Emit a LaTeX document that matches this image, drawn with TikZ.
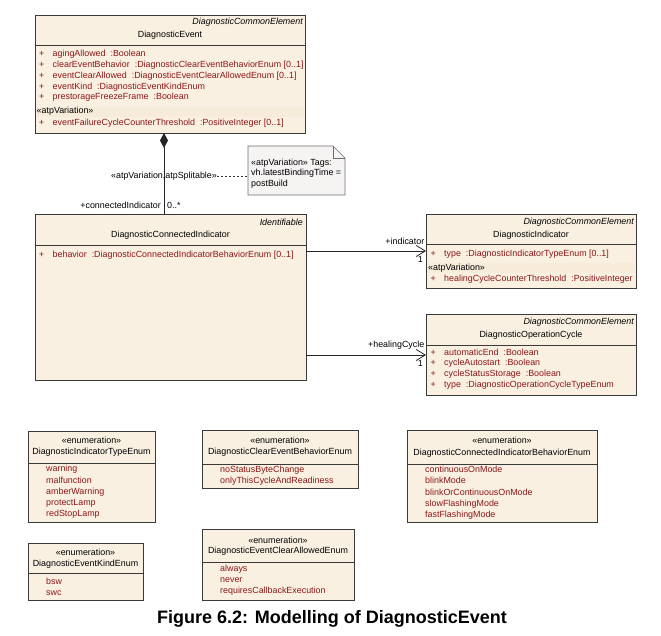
\documentclass[tikz,border=0pt]{standalone}
\usepackage{fontspec}
\setmainfont{Liberation Sans}
\usetikzlibrary{arrows.meta}

\definecolor{boxfill}{RGB}{250,240,226}
\definecolor{bandfill}{RGB}{247,235,218}
\definecolor{boxline}{RGB}{58,58,58}
\definecolor{attrred}{RGB}{140,22,22}
\definecolor{notefill}{RGB}{246,243,243}
\definecolor{noteline}{RGB}{110,110,110}

\def\attrplus{+\hspace{8.3pt}}

\tikzset{
  classbox/.style={draw=boxline, fill=boxfill, line width=0.8pt},
  sepline/.style={draw=boxline, line width=0.8pt},
  stereo/.style={anchor=east, inner sep=0pt, font=\fontsize{8.9}{10}\selectfont\itshape},
  cname/.style={inner sep=0pt, font=\fontsize{8.9}{10}\selectfont},
  attr/.style={anchor=west, inner sep=0pt, text=attrred, font=\fontsize{8.9}{10}\selectfont},
  plain/.style={inner sep=0pt, font=\fontsize{8.9}{10}\selectfont},
  assoc/.style={draw=black!85, line width=0.8pt, -{Straight Barb[length=9pt,width=11pt]}}
}

\begin{document}
\begin{tikzpicture}[x=1pt, y=-1pt]
\useasboundingbox (0,0) rectangle (661,635);

% DiagnosticEvent
\draw[classbox] (35,15) rectangle (305,133);
\draw[sepline] (35,45) -- (305,45);
\node[stereo] (ev-st) at (303,22) {DiagnosticCommonElement};
\node[cname] (ev-nm) at (170,35) {DiagnosticEvent};
\node[attr] (ev-a1) at (39,54) {\attrplus agingAllowed\ \ :Boolean};
\node[attr] (ev-a2) at (39,64.7) {\attrplus clearEventBehavior\ \ :DiagnosticClearEventBehaviorEnum [0..1]};
\node[attr] (ev-a3) at (39,75.7) {\attrplus eventClearAllowed\ \ :DiagnosticEventClearAllowedEnum [0..1]};
\node[attr] (ev-a4) at (39,86.7) {\attrplus eventKind\ \ :DiagnosticEventKindEnum};
\node[attr] (ev-a5) at (39,97.3) {\attrplus prestorageFreezeFrame\ \ :Boolean};
\fill[bandfill] (36,106.5) rectangle (304,117);
\node[plain, anchor=west] (ev-var) at (36.5,111.5) {«atpVariation»};
\node[attr] (ev-a6) at (39,123.5) {\attrplus eventFailureCycleCounterThreshold\ \ :PositiveInteger [0..1]};

% DiagnosticConnectedIndicator
\draw[classbox] (35,214) rectangle (306,380);
\draw[sepline] (35,245) -- (306,245);
\node[stereo] (ci-st) at (303,222) {Identifiable};
\node[cname] (ci-nm) at (170.5,235) {DiagnosticConnectedIndicator};
\node[attr] (ci-a1) at (39,255) {\attrplus behavior\ \ :DiagnosticConnectedIndicatorBehaviorEnum [0..1]};
\coordinate (ci-top) at (164,214);

% DiagnosticIndicator
\draw[classbox] (426,214) rectangle (636,288);
\draw[sepline] (426,244) -- (636,244);
\coordinate (ind-w) at (426,251);
\node[stereo] (ind-st) at (634,222) {DiagnosticCommonElement};
\node[cname] (ind-nm) at (531,235.5) {DiagnosticIndicator};
\node[attr] (ind-a1) at (430.5,254) {\attrplus type\ \ :DiagnosticIndicatorTypeEnum [0..1]};
\fill[bandfill] (427,262.5) rectangle (635,273);
\node[plain, anchor=west] (ind-var) at (428,268) {«atpVariation»};
\node[attr] (ind-a2) at (430.5,279) {\attrplus healingCycleCounterThreshold\ \ :PositiveInteger};

% DiagnosticOperationCycle
\draw[classbox] (426,314) rectangle (636,395);
\draw[sepline] (426,345) -- (636,345);
\coordinate (oc-w) at (426,355);
\node[stereo] (oc-st) at (634,322) {DiagnosticCommonElement};
\node[cname] (oc-nm) at (531,335) {DiagnosticOperationCycle};
\node[attr] (oc-a1) at (430.5,352.7) {\attrplus automaticEnd\ \ :Boolean};
\node[attr] (oc-a2) at (430.5,363.3) {\attrplus cycleAutostart\ \ :Boolean};
\node[attr] (oc-a3) at (430.5,374) {\attrplus cycleStatusStorage\ \ :Boolean};
\node[attr] (oc-a4) at (430.5,384.7) {\attrplus type\ \ :DiagnosticOperationCycleTypeEnum};

% composition with its note
\coordinate (compo) at (164,133);
\draw[draw=black!85, line width=0.8pt, {Diamond[length=15pt,width=8pt]}-] (compo) -- (ci-top);
\node[plain] (compo-lbl) at (164,176) {«atpVariation,atpSplitable»};
\node[plain, anchor=east] (compo-role) at (161,205) {+connectedIndicator};
\node[plain, anchor=west] (compo-mult) at (167,205) {0..*};
\draw[fill=notefill, draw=noteline, line width=0.7pt] (248,146) -- (333,146) -- (345,158) -- (345,195) -- (248,195) -- cycle;
\draw[draw=noteline, line width=0.7pt] (333,146) -- (333,158) -- (345,158);
\coordinate (note-w) at (248,176);
\node[plain, anchor=north west, align=left, font=\fontsize{8.9}{10.5}\selectfont] (note) at (251,158.5) {«atpVariation» Tags:\\vh.latestBindingTime =\\postBuild};
\draw[black!80, line width=0.7pt, dash pattern=on 2pt off 2pt] (compo-lbl.east) -- (note-w);

% associations
\draw[assoc] (ind-w -| 306,0) -- (ind-w);
\node[plain, anchor=east] (ind-role) at (424.5,241) {+indicator};
\node[plain, anchor=east] (ind-mult) at (423,259) {1};
\draw[assoc] (oc-w -| 306,0) -- (oc-w);
\node[plain, anchor=east] (oc-role) at (424.5,345) {+healingCycle};
\node[plain, anchor=east] (oc-mult) at (423,363) {1};

% enumerations
\draw[classbox] (28,431) rectangle (155,522);
\draw[sepline] (28,463) -- (155,463);
\node[plain] (it-st) at (91.5,440) {«enumeration»};
\node[plain] (it-nm) at (91.5,452) {DiagnosticIndicatorTypeEnum};
\node[attr] (it-l1) at (46,469.3) {warning};
\node[attr] (it-l2) at (46,480.5) {malfunction};
\node[attr] (it-l3) at (46,491.7) {amberWarning};
\node[attr] (it-l4) at (46,502.9) {protectLamp};
\node[attr] (it-l5) at (46,514.1) {redStopLamp};

\draw[classbox] (202,430) rectangle (358,488);
\draw[sepline] (202,464) -- (358,464);
\node[plain] (ce-st) at (280,440) {«enumeration»};
\node[plain] (ce-nm) at (280,452.3) {DiagnosticClearEventBehaviorEnum};
\node[attr] (ce-l1) at (220,470) {noStatusByteChange};
\node[attr] (ce-l2) at (220,481.5) {onlyThisCycleAndReadiness};

\draw[classbox] (407,430) rectangle (597,522);
\draw[sepline] (407,464) -- (597,464);
\node[plain] (cb-st) at (502,440) {«enumeration»};
\node[plain] (cb-nm) at (502,452.7) {DiagnosticConnectedIndicatorBehaviorEnum};
\node[attr] (cb-l1) at (425,469.3) {continuousOnMode};
\node[attr] (cb-l2) at (425,480.8) {blinkMode};
\node[attr] (cb-l3) at (425,492.3) {blinkOrContinuousOnMode};
\node[attr] (cb-l4) at (425,503.8) {slowFlashingMode};
\node[attr] (cb-l5) at (425,515) {fastFlashingMode};

\draw[classbox] (28,543) rectangle (143,600);
\draw[sepline] (28,573.3) -- (143,573.3);
\node[plain] (ek-st) at (85.5,552.7) {«enumeration»};
\node[plain] (ek-nm) at (85.5,563.7) {DiagnosticEventKindEnum};
\node[attr] (ek-l1) at (46,581.7) {bsw};
\node[attr] (ek-l2) at (46,592.7) {swc};

\draw[classbox] (202,529) rectangle (354,600);
\draw[sepline] (202,562.3) -- (354,562.3);
\node[plain] (ca-st) at (278,540) {«enumeration»};
\node[plain] (ca-nm) at (278,551) {DiagnosticEventClearAllowedEnum};
\node[attr] (ca-l1) at (220,569.3) {always};
\node[attr] (ca-l2) at (220,580.3) {never};
\node[attr] (ca-l3) at (220,591.3) {requiresCallbackExecution};

% caption
\node[inner sep=0pt, font=\fontsize{18}{20}\selectfont\bfseries] (caption) at (332,619) {Figure 6.2: Modelling of DiagnosticEvent};
\end{tikzpicture}
\end{document}
